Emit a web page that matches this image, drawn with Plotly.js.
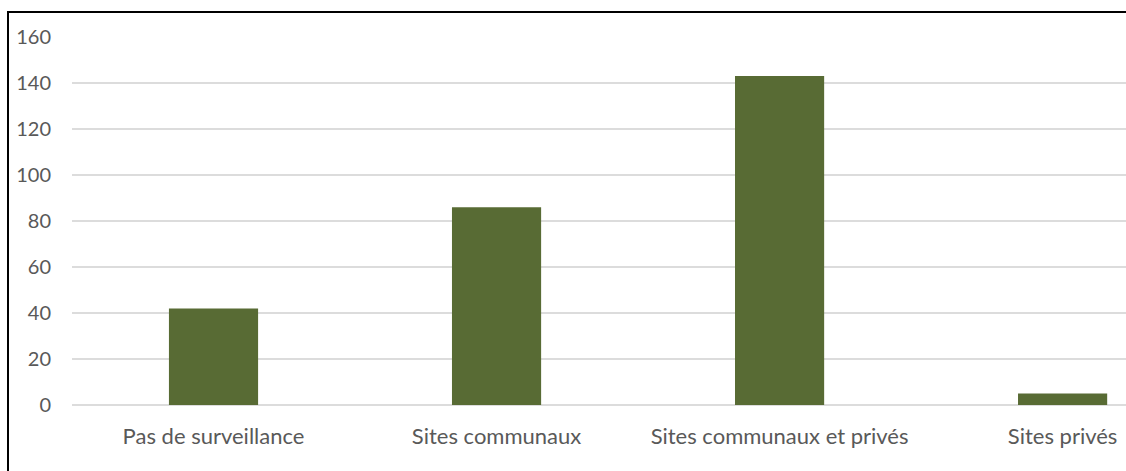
<!DOCTYPE html>
<html>
<head>
<meta charset="utf-8">
<script src="https://cdn.plot.ly/plotly-3.0.1.min.js"></script>
<style>
html,body{margin:0;padding:0;background:#fff;}
#wrap{position:relative;width:1126px;height:471px;overflow:hidden;}
#chart{width:1126px;height:471px;}
#frame{position:absolute;left:7px;top:11px;width:1200px;height:600px;border-top:2px solid #000;border-left:2px solid #000;pointer-events:none;}
</style>
</head>
<body>
<div id="wrap"><div id="chart"></div><div id="frame"></div></div>
<script>
const categories = ["Pas de surveillance", "Sites communaux", "Sites communaux et privés", "Sites privés"];
const values = [42, 86, 143, 5];
const yTicks = [0, 20, 40, 60, 80, 100, 120, 140, 160];

const trace = {
  type: 'bar',
  x: categories,
  y: values,
  marker: {color: '#586B34'},
  hoverinfo: 'x+y'
};

const layout = {
  width: 1126,
  height: 471,
  margin: {l: 72, r: 0, t: 37, b: 66},
  paper_bgcolor: '#fff',
  plot_bgcolor: '#fff',
  bargap: 0.685,
  showlegend: false,
  font: {family: 'Lato, "Open Sans", sans-serif', size: 20, color: '#595959'},
  xaxis: {
    type: 'category',
    range: [-0.5, 3.224],
    showgrid: false,
    showline: false,
    zeroline: false,
    ticks: '',
    ticklabelstandoff: 16,
    tickfont: {size: 22, color: '#595959'}
  },
  yaxis: {
    range: [0, 160],
    tickvals: yTicks,
    showgrid: true,
    gridcolor: '#dcdcdc',
    gridwidth: 2,
    zeroline: true,
    zerolinecolor: '#dcdcdc',
    zerolinewidth: 2,
    showline: false,
    ticks: '',
    ticklabelstandoff: 20,
    tickfont: {size: 20, color: '#595959'}
  }
};

Plotly.newPlot('chart', [trace], layout, {displayModeBar: false, staticPlot: true});
</script>
</body>
</html>
